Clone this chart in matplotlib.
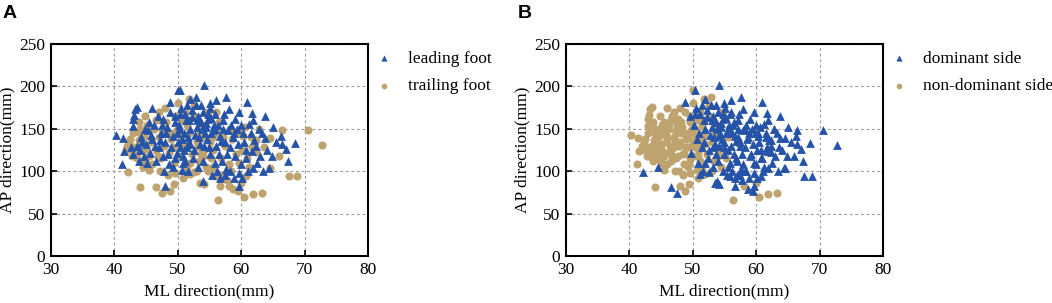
import matplotlib
matplotlib.use("Agg")
import matplotlib.pyplot as plt

# Points grouped by (foot, side) class: (ML mm, AP mm)
lead_dom = [(54.2,202),(52.0,185),(56.0,184),(57.6,188),(60.9,182),(48.8,182),(59.7,170),(61.7,169),
            (63.8,165),(65.0,152),(63.3,145),(63.8,139),(66.3,141),(66.4,132),(67.0,126),(68.5,133),
            (67.4,112),(64.4,104),(61.3,156),(59.4,150),(59.7,83),(53.9,89),(62.0,137),(61.7,124),
            (61.9,104),(50.4,196),
            (50.5,175),(51.2,168),(51.8,160),(52.3,172),(52.8,178),(53.2,165),(53.6,158),(54.0,170),
            (54.4,152),(54.8,162),(55.1,175),(55.5,148),(55.9,168),(56.3,155),(56.7,142),(57.1,160),
            (57.5,135),(57.9,148),(58.3,128),(58.7,140),(59.1,118),(59.5,132),(59.9,108),(60.3,145),
            (60.7,125),(61.1,100),(58.2,100),(57.4,95),(56.6,92),(55.8,110),(55.0,120),(54.2,130),
            (53.4,140),(52.6,125),(51.8,135),(51.0,145),(50.2,155),(49.6,165),(50.8,110),(51.6,100),
            (52.4,115),(53.2,105),(54.0,112),(54.6,138),(55.2,145),(55.7,155),(56.0,130),(56.5,120),
            (57.0,112),(57.8,120),(58.4,155),(59.0,162),(60.0,155),(60.5,135),(61.5,145),(62.3,130),
            (62.8,150),(63.0,118),(60.8,115),(59.6,98),(58.9,92),(57.6,103),(56.2,100),(55.4,95),
            (53.8,150),(54.5,157),(53.0,160),(52.0,150),(51.4,128),(50.6,138),(49.8,122),(53.5,132),
            (54.9,128),(56.8,136),(55.3,163),(57.3,167),(58.0,173),(53.7,178),(55.0,181),(51.5,178),
            (50.3,168),(52.7,143),(57.2,150),(58.8,145),(61.8,160),(62.5,110),(64.0,125),(65.5,135),
            (64.8,118),(60.2,92),(63.5,100),(54.3,145),(55.8,150),(53.1,152),(52.2,164),(54.7,167)]

lead_nondom = [(40.2,143),(41.4,139),(41.2,108),(41.5,124),(43.2,173),(43.5,176),(43.1,166),(43.0,161),
               (42.9,153),(46.0,175),(47.6,162),(50.0,196),(52.9,187),(48.0,83),
               (43.5,130),(44.0,125),(44.2,140),(44.6,118),(45.0,132),(45.3,148),(45.6,122),(46.0,138),
               (46.3,155),(46.6,112),(47.0,128),(47.3,145),(47.6,118),(48.0,135),(48.3,152),(48.6,108),
               (49.0,128),(49.3,142),(49.6,115),(50.0,135),(50.3,150),(50.6,102),(51.0,125),(51.3,160),
               (51.6,140),(45.2,110),(44.8,150),(46.8,165),(48.8,170),(49.5,158),(47.8,100),(43.8,112),
               (42.6,128),(45.8,143),(47.2,137),(48.5,120),(49.9,145),(50.8,118),(51.9,132),(46.4,130),
               (44.4,135),(43.0,120),(47.5,155),(49.2,105),(50.4,128),(48.1,145),(45.5,158),(51.2,112)]

trail_nondom = [(44.1,81),(48.7,77),(49.4,85),(56.3,66),(60.5,70),(61.9,73),(63.3,74),(58.1,83),
                (59.9,86),(50.1,180),(44.0,145),(43.9,137),(42.3,133),(42.6,126),(44.9,113),(51.7,185),
                (42.0,130),(42.5,138),(43.2,128),(43.6,122),(44.2,132),(44.6,142),(45.0,126),(45.4,118),
                (45.8,135),(46.2,150),(46.6,125),(47.0,140),(47.4,115),(47.8,130),(48.2,158),(48.6,122),
                (49.0,138),(49.4,110),(49.8,148),(50.2,118),(50.6,160),(51.0,132),(51.4,105),(51.8,145),
                (52.2,120),(52.6,165),(53.0,135),(53.4,112),(53.8,155),(54.2,125),(46.0,108),(47.2,100),
                (48.4,95),(49.6,98),(50.8,92),(52.0,97),(53.0,100),(54.5,105),(55.2,115),(55.6,140),
                (54.8,170),(48.0,175),(46.5,160),(45.2,155),(44.0,150),(43.0,145),(47.5,148),(49.2,128),
                (50.5,140),(51.5,155),(52.5,178),(46.8,118),(45.5,102),(43.5,115),(42.8,118),(41.8,125),
                (48.8,145),(51.2,170),(53.5,145),(54.0,118),(44.8,165),(43.8,158),(47.0,170),(49.5,165)]

trail_dom = [(42.1,99),(44.5,105),(46.5,81),(47.5,74),(56.7,83),(58.7,79),(59.5,77),(67.5,94),
             (68.8,94),(70.5,149),(72.8,131),(66.4,148),(66.0,118),(64.6,139),(64.6,104),(62.3,137),
             (61.7,128),(62.3,123),(60.9,115),(61.2,105),(60.7,94),(60.3,142),(60.6,152),(53.5,86),
             (54.1,85),(52.5,99),(51.2,97),
             (55.0,135),(55.6,125),(56.2,145),(56.8,115),(57.4,130),(58.0,108),(58.6,138),(59.2,120),
             (59.8,145),(57.0,95),(58.4,100),(55.5,105),(56.0,170),(57.2,140),(58.2,150),(54.2,142),
             (53.6,120),(59.6,110),(60.2,125),(61.5,140),(62.8,150),(63.6,128),(57.8,90),(55.9,94),
             (54.8,100),(56.5,158),(53.2,128),(52.0,110)]

x_ticks = [30, 40, 50, 60, 70, 80]
y_ticks = [0, 50, 100, 150, 200, 250]

BLUE = "#2553a8"
TAN = "#bfa36e"

plt.rcParams['font.family'] = ['Liberation Serif', 'DejaVu Serif']

fig = plt.figure(figsize=(10.52, 3.03), dpi=100)
axA = fig.add_axes([0.0485, 0.1551, 0.3013, 0.6997])
axB = fig.add_axes([0.5380, 0.1551, 0.3013, 0.6997])

def xy(pts):
    return [p[0] for p in pts], [p[1] for p in pts]

panels = [
    (axA, "A", (lead_dom + lead_nondom, "leading foot"), (trail_dom + trail_nondom, "trailing foot")),
    (axB, "B", (lead_dom + trail_dom, "dominant side"), (lead_nondom + trail_nondom, "non-dominant side")),
]

for ax, letter, (bpts, blab), (tpts, tlab) in panels:
    tx, ty = xy(tpts)
    bx, by = xy(bpts)
    h1 = ax.scatter(bx, by, marker='^', s=40, color=BLUE, linewidths=0, zorder=3, label=blab)
    h2 = ax.scatter(tx, ty, marker='o', s=34, color=TAN, linewidths=0, zorder=2, label=tlab)
    ax.set_xlim(30, 80)
    ax.set_ylim(0, 250)
    ax.set_xticks(x_ticks)
    ax.set_yticks(y_ticks)
    ax.grid(True, linestyle=(0, (2.5, 2.5)), color='#9a9a9a', linewidth=0.8)
    ax.set_axisbelow(True)
    ax.tick_params(direction='in', labelsize=12.5, length=4, width=1.2, pad=4)
    for s in ax.spines.values():
        s.set_linewidth(1.5)
    ax.set_xlabel("ML direction(mm)", fontsize=12.5, labelpad=4)
    ax.set_ylabel("AP direction(mm)", fontsize=12.5, labelpad=3)
    ax.legend(handles=[h1, h2], loc='upper left', bbox_to_anchor=(1.0, 1.002), frameon=False,
              fontsize=12.5, markerscale=0.7, handlelength=1.0, handletextpad=0.9,
              labelspacing=0.65, borderaxespad=0)
    bb = ax.get_position()
    fig.text(bb.x0 - 0.046, 0.985, letter, fontsize=14, fontweight='bold',
             family=['Liberation Sans', 'DejaVu Sans'], va='top', ha='left')

fig.savefig("out.png", dpi=100)
